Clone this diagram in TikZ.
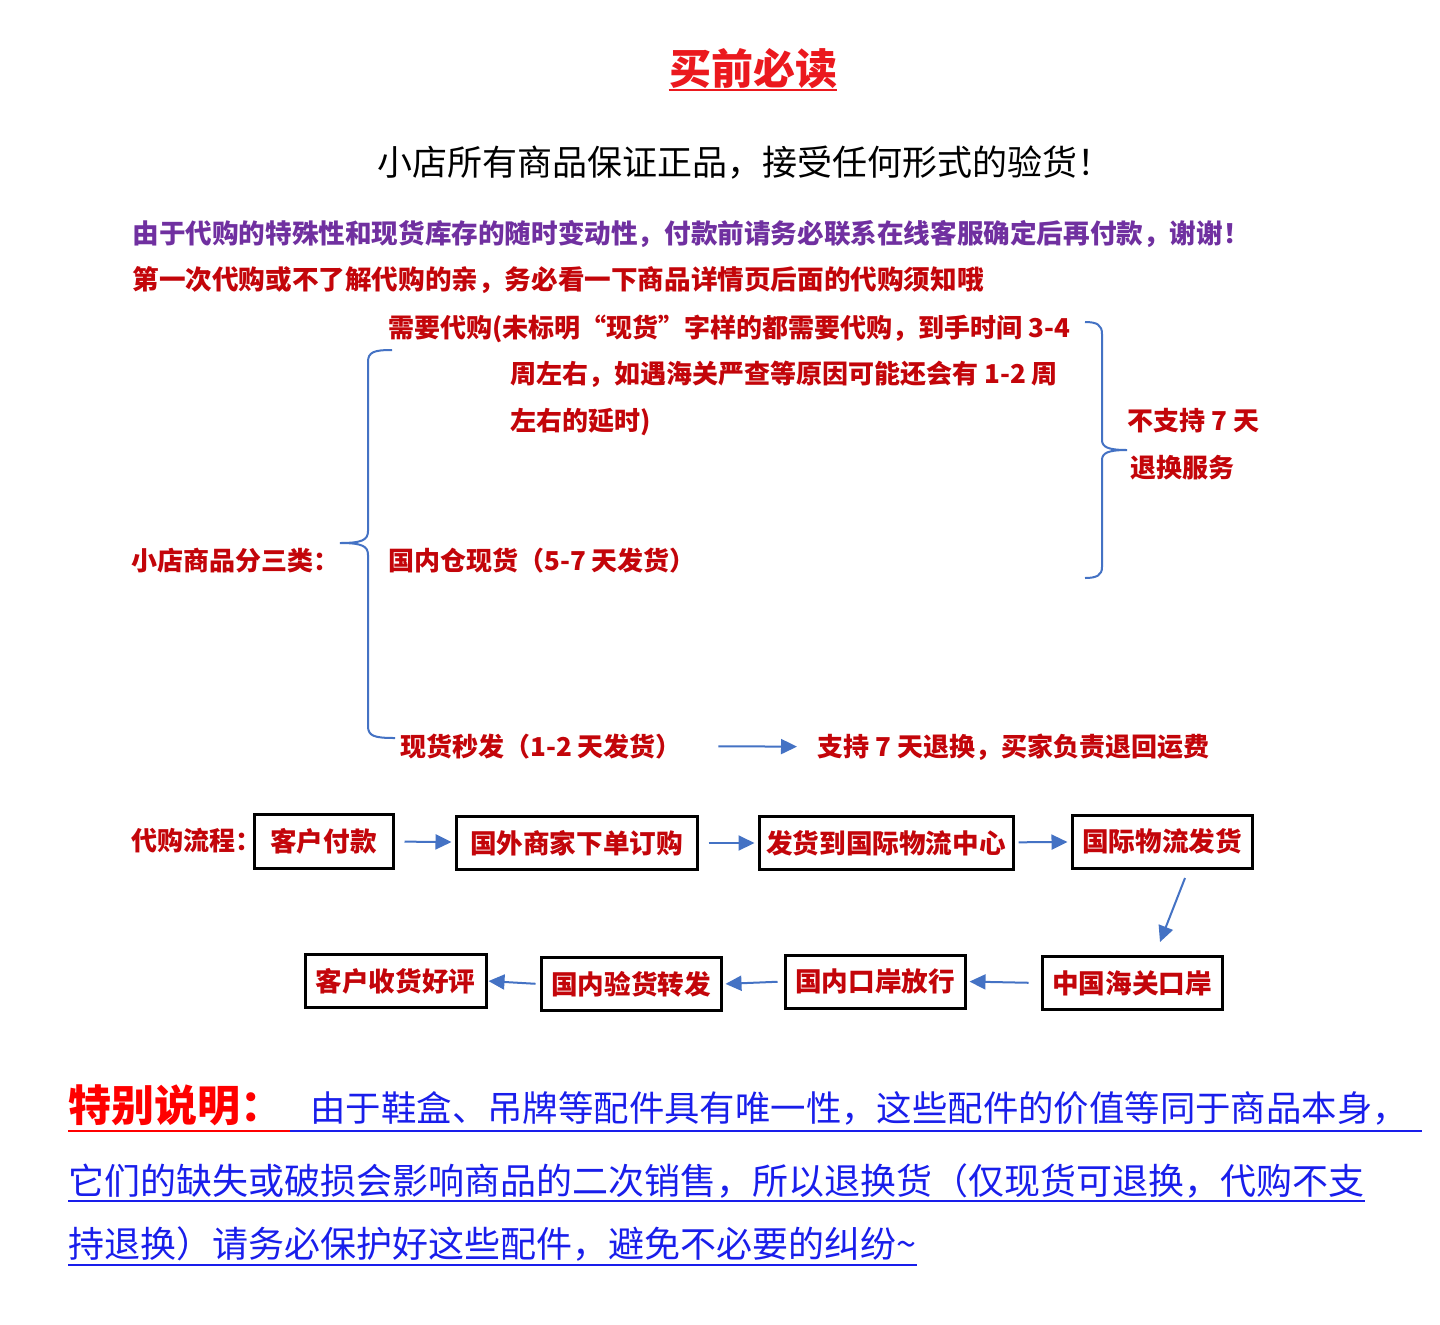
\documentclass[tikz,border=0pt]{standalone}
\usepackage{fontspec}
\setmainfont{Noto Sans CJK SC}
\usepackage{xcolor}
\usetikzlibrary{arrows.meta}
\definecolor{darkred}{RGB}{195,5,10}
\definecolor{titlered}{RGB}{235,25,30}
\definecolor{notepurple}{RGB}{112,48,160}
\definecolor{arrowblue}{RGB}{68,114,196}
\definecolor{noteblue}{RGB}{25,30,235}
\newcommand{\fsz}[1]{\fontsize{#1}{#1}\selectfont}

\tikzset{
  line/.style={anchor=base west,inner sep=0pt,text=darkred,font=\bfseries\fsz{13}},
  flowbox/.style={draw,line width=1.5pt,inner sep=0pt,minimum height=26.5pt,
    text=darkred,font=\bfseries\fsz{13.3}},
  flowarrow/.style={arrowblue,line width=1pt,-{Triangle[length=8pt,width=7.5pt]},
    shorten <=3pt,shorten >=1.5pt},
  bracket/.style={arrowblue,line width=1pt},
  note/.style={anchor=base west,inner sep=0pt,text=noteblue,font=\fsz{18}}
}

\begin{document}
\begin{tikzpicture}[x=0.5pt,y=-0.5pt]
\fill[white] (0,0) rectangle (1440,1324);
\useasboundingbox (0,0) rectangle (1440,1324);

% heading
\node[anchor=base,inner sep=0pt,text=titlered,font=\bfseries\fsz{21}] (title) at (753,84) {买前必读};
\draw[titlered,line width=1pt] ([yshift=-3pt]title.base west) -- ([yshift=-3pt]title.base east);
\node[anchor=base,inner sep=0pt,font=\fsz{17.5}] (subtitle) at (745,175) {小店所有商品保证正品，接受任何形式的验货！};

\node[line,text=notepurple,font=\bfseries\fsz{13.3}] (hint1) at (132,243)
  {由于代购的特殊性和现货库存的随时变动性，付款前请务必联系在线客服确定后再付款，谢谢！};
\node[line,font=\bfseries\fsz{13.3}] (hint2) at (132,289)
  {第一次代购或不了解代购的亲，务必看一下商品详情页后面的代购须知哦};

% three kinds of goods
\node[line] (kinds) at (131,570) {小店商品分三类：};
\node[line] (agent1) at (388,337) {需要代购(未标明“现货”字样的都需要代购，到手时间 3-4};
\node[line] (agent2) at (510,383) {周左右，如遇海关严查等原因可能还会有 1-2 周};
\node[line] (agent3) at (510,430) {左右的延时)};
\node[line] (stock) at (388,570) {国内仓现货（5-7 天发货）};
\node[line] (quick) at (400,756) {现货秒发（1-2 天发货）};
\node[line] (swap) at (817,756) {支持 7 天退换，买家负责退回运费};
\node[line] (noswap1) at (1127,430) {不支持 7 天};
\node[line] (noswap2) at (1130,477) {退换服务};

% brackets
\draw[bracket] (392,350) .. controls (374,350) and (368,352) .. (368,362) -- (368,531)
  .. controls (368,540) and (362,543) .. (340,543)
  .. controls (362,543) and (368,546) .. (368,555) -- (368,726)
  .. controls (368,736) and (374,738) .. (395,738);
\draw[bracket] (1085,322) .. controls (1097,322) and (1102,325) .. (1102,334) -- (1102,440)
  .. controls (1102,447) and (1108,450) .. (1127,450)
  .. controls (1108,450) and (1102,453) .. (1102,460) -- (1102,567)
  .. controls (1102,575) and (1097,578) .. (1085,578);
\draw[flowarrow,shorten <=18pt,shorten >=10pt] (quick.east) -- (swap.west);

% purchase flow
\node[line] (flow) at (131,850) {代购流程：};
\node[flowbox,minimum width=69.5pt,minimum height=27pt] (b1) at (323.5,841) {客户付款};
\node[flowbox,minimum width=120.5pt] (b2) at (576.5,843) {国外商家下单订购};
\node[flowbox,minimum width=127pt] (b3) at (886,843) {发货到国际物流中心};
\node[flowbox,minimum width=90pt] (b4) at (1162,841.5) {国际物流发货};
\node[flowbox,minimum width=90pt] (b5) at (1132,983) {中国海关口岸};
\node[flowbox,minimum width=90pt] (b6) at (875,981.5) {国内口岸放行};
\node[flowbox,minimum width=90pt] (b7) at (631,984) {国内验货转发};
\node[flowbox,minimum width=90.5pt] (b8) at (395.5,981) {客户收货好评};

\coordinate (d1) at (1185,878);
\coordinate (d2) at (1160,942);
\draw[flowarrow,shorten <=5pt] (b1) -- (b2);
\draw[flowarrow,shorten <=5pt] (b2) -- (b3);
\draw[flowarrow,shorten <=2pt] (b3) -- (b4);
\draw[flowarrow,shorten <=0pt,shorten >=0pt] (d1) -- (d2);
\draw[flowarrow,shorten <=6pt] (b5.west) -- (b6.east);
\draw[flowarrow] (b6.west) -- (b7.east);
\draw[flowarrow,shorten <=2pt,shorten >=0.5pt] (b7.west) -- (b8.east);

% special note
\node[anchor=base west,inner sep=0pt,text=red,font=\bfseries\fsz{21.5}] (special) at (68,1121) {特别说明：};
\node[note,font=\fsz{17.7}] (note1) at (310,1121) {由于鞋盒、吊牌等配件具有唯一性，这些配件的价值等同于商品本身，};
\node[note] (note2) at (68,1194) {它们的缺失或破损会影响商品的二次销售，所以退换货（仅现货可退换，代购不支};
\node[note] (note3) at (68,1257) {持退换）请务必保护好这些配件，避免不必要的纠纷\textasciitilde};
\draw[red,line width=1pt] (68,1131) -- (290,1131);
\draw[noteblue,line width=1pt] (290,1131) -- (1422,1131);
\draw[noteblue,line width=1pt] ([yshift=-3.5pt]note2.base west) -- ([yshift=-3.5pt]note2.base east);
\draw[noteblue,line width=1pt] ([yshift=-4pt]note3.base west) -- ([yshift=-4pt]note3.base east);
\end{tikzpicture}
\end{document}
